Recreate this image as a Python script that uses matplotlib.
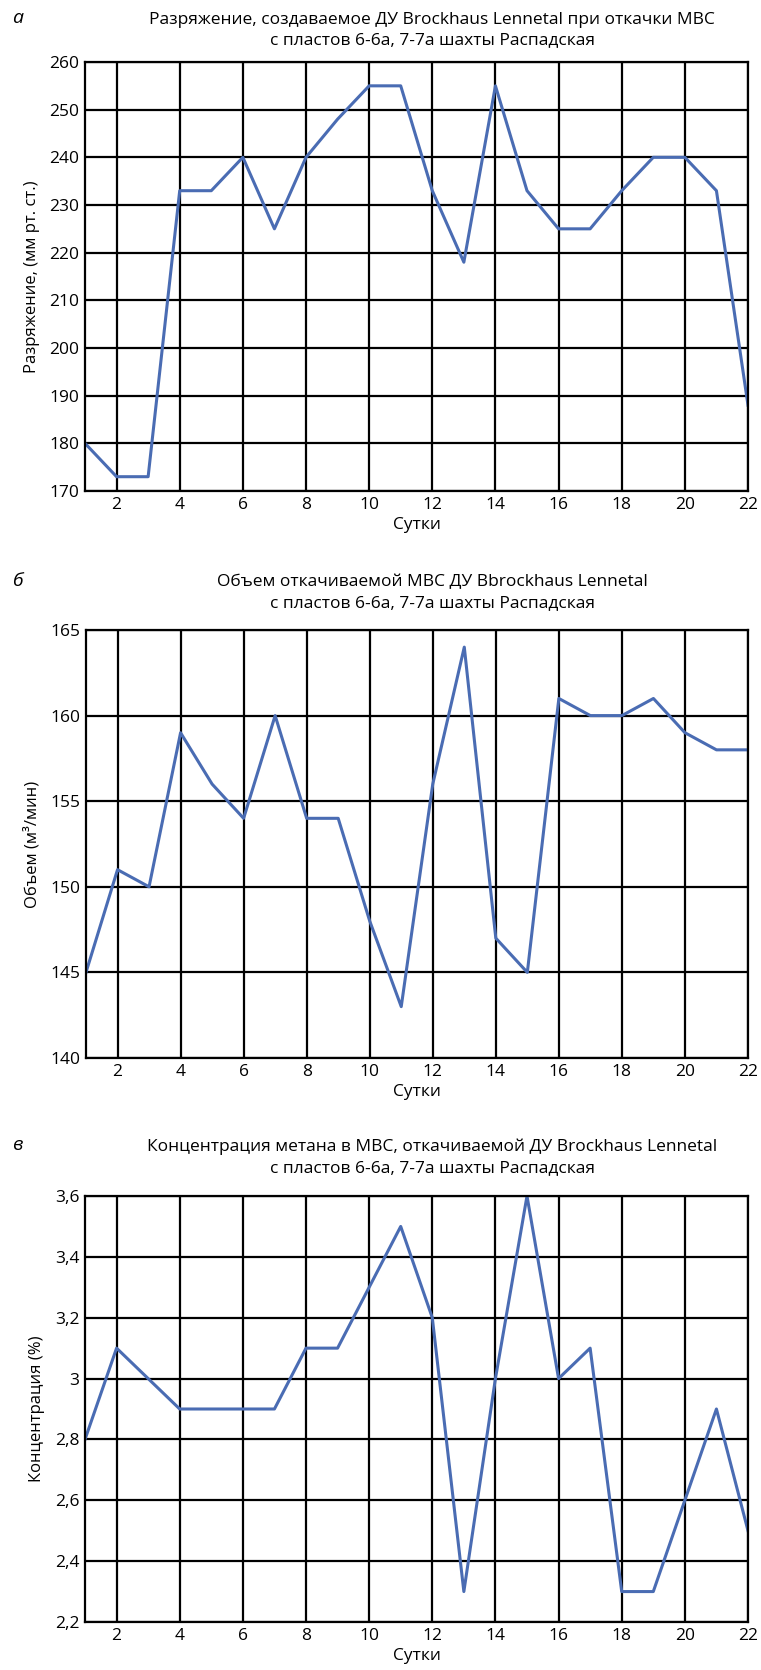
import matplotlib
matplotlib.use("Agg")
import matplotlib.pyplot as plt
from matplotlib.ticker import FuncFormatter

plt.rcParams['font.family'] = ['Open Sans', 'DejaVu Sans']

days = list(range(1, 23))

razr = [180, 173, 173, 233, 233, 240, 225, 240, 248, 255, 255,
        233, 218, 255, 233, 225, 225, 233, 240, 240, 233, 188]
obem = [145, 151, 150, 159, 156, 154, 160, 154, 154, 148, 143,
        156, 164, 147, 145, 161, 160, 160, 161, 159, 158, 158]
konc = [2.8, 3.1, 3.0, 2.9, 2.9, 2.9, 2.9, 3.1, 3.1, 3.3, 3.5,
        3.2, 2.3, 3.0, 3.6, 3.0, 3.1, 2.3, 2.3, 2.6, 2.9, 2.5]

xticks = list(range(2, 23, 2))
yticks_a = list(range(170, 261, 10))
yticks_b = list(range(140, 166, 5))
yticks_c = [2.2, 2.4, 2.6, 2.8, 3.0, 3.2, 3.4, 3.6]

titles = [
    "Разряжение, создаваемое ДУ Brockhaus Lennetal при откачки МВС\nс пластов 6-6а, 7-7а шахты Распадская",
    "Объем откачиваемой МВС ДУ Bbrockhaus Lennetal\nс пластов 6-6а, 7-7а шахты Распадская",
    "Концентрация метана в МВС, откачиваемой ДУ Brockhaus Lennetal\nс пластов 6-6а, 7-7а шахты Распадская",
]
ylabels = ["Разряжение, (мм рт. ст.)", "Объем (м³/мин)", "Концентрация (%)"]
letters = ["а", "б", "в"]

W, H = 761, 1670
fig = plt.figure(figsize=(W / 100, H / 100), dpi=100)

# (left, top, right, bottom) in pixels, title y
boxes = [(85, 62, 748, 491, 30), (86, 630, 748, 1058, 593), (85, 1196, 748, 1622, 1157)]
series = [razr, obem, konc]
yticks = [yticks_a, yticks_b, yticks_c]

def comma(v, pos):
    s = ("%.1f" % v).rstrip("0").rstrip(".")
    return s.replace(".", ",")

for i in range(3):
    l, t, r, b, ty = boxes[i]
    ax = fig.add_axes([l / W, 1 - b / H, (r - l) / W, (b - t) / H])
    ax.plot(days, series[i], color="#4a6cb3", lw=2.2)
    ax.set_xlim(1, 22)
    ax.set_ylim(yticks[i][0], yticks[i][-1])
    ax.set_xticks(xticks)
    ax.set_yticks(yticks[i])
    if i == 2:
        ax.yaxis.set_major_formatter(FuncFormatter(comma))
    ax.grid(True, color="black", lw=1.6)
    ax.set_axisbelow(True)
    for sp in ax.spines.values():
        sp.set_color("black")
        sp.set_linewidth(1.6)
    ax.tick_params(length=0, labelsize=12.5, pad=4)
    ax.set_xlabel("Сутки", fontsize=12.5, labelpad=3)
    ax.set_ylabel(ylabels[i], fontsize=12, labelpad=7)
    fig.text(432 / W, 1 - ty / H, titles[i], ha="center", va="center",
             fontsize=12.5, linespacing=1.4)
    fig.text(12 / W, 1 - (ty - 12) / H, letters[i], ha="left", va="center",
             fontsize=14, style="italic")

fig.savefig("out.png", dpi=100)
